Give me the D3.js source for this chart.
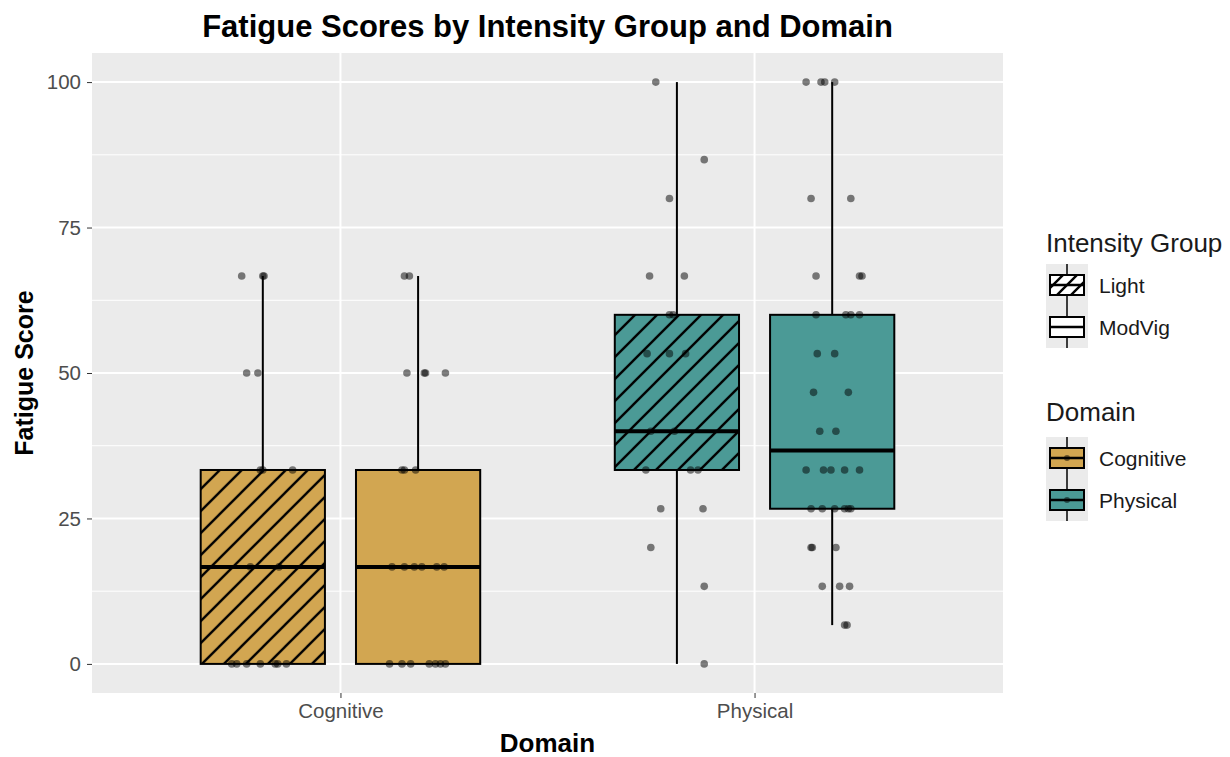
<!DOCTYPE html>
<html>
<head>
<meta charset="utf-8">
<script src="https://cdn.jsdelivr.net/npm/d3@7"></script>
<style>
  body { margin: 0; background: #fff; }
  text { font-family: "Liberation Sans", Arial, Helvetica, sans-serif; }
</style>
</head>
<body>
<div id="chart"></div>
<script>
// categories
var domains = ["Cognitive", "Physical"];
var groups = ["Light", "ModVig"];
var yTicks = [0, 25, 50, 75, 100];

// box summaries: [domain, group, lower, q1, median, q3, upper]
var boxes = [
  ["Cognitive", "Light", 0, 0, 16.67, 33.33, 66.67],
  ["Cognitive", "ModVig", 0, 0, 16.67, 33.33, 66.67],
  ["Physical", "Light", 0, 33.33, 40, 60, 100],
  ["Physical", "ModVig", 6.67, 26.67, 36.67, 60, 100]
];

// jittered points: [score, jitter as fraction of box width]
var cogLight = [
  [66.67, -0.17], [66.67, 0.0], [66.67, 0.01], [50, -0.13], [50, -0.04],
  [33.33, -0.02], [33.33, 0.0], [33.33, 0.24], [16.67, -0.1], [16.67, 0.13],
  [0, -0.25], [0, -0.21], [0, -0.13], [0, -0.02], [0, 0.10], [0, 0.12], [0, 0.19]
];
var cogModVig = [
  [66.67, -0.11], [66.67, -0.07], [50, -0.09], [50, 0.05], [50, 0.06], [50, 0.22],
  [33.33, -0.13], [33.33, -0.11], [33.33, -0.02],
  [16.67, -0.21], [16.67, -0.11], [16.67, -0.03], [16.67, 0.03], [16.67, 0.15], [16.67, 0.21],
  [0, -0.23], [0, -0.13], [0, -0.06], [0, 0.09], [0, 0.14], [0, 0.18], [0, 0.22]
];
var phyLight = [
  [100, -0.17], [86.67, 0.22], [80, -0.06], [66.67, -0.22], [66.67, 0.06],
  [60, -0.06], [60, -0.03], [53.33, -0.24], [53.33, -0.06], [53.33, 0.07],
  [40, -0.21], [40, -0.02], [33.33, -0.25], [33.33, 0.11], [33.33, 0.17],
  [26.67, -0.13], [26.67, 0.21], [20, -0.21], [13.33, 0.22], [0, 0.22]
];
var phyModVig = [
  [100, -0.21], [100, -0.09], [100, -0.06], [100, 0.02], [80, -0.17], [80, 0.15],
  [66.67, -0.13], [66.67, 0.22], [66.67, 0.24],
  [60, -0.13], [60, 0.11], [60, 0.15], [60, 0.22], [53.33, -0.12], [53.33, 0.02],
  [46.67, -0.15], [46.67, 0.13], [40, -0.10], [40, 0.03],
  [33.33, -0.21], [33.33, -0.07], [33.33, -0.01], [33.33, 0.10], [33.33, 0.22],
  [26.67, -0.17], [26.67, -0.08], [26.67, 0.02], [26.67, 0.10], [26.67, 0.13], [26.67, 0.15],
  [20, -0.17], [20, -0.16], [20, 0.03], [13.33, -0.08], [13.33, 0.06], [13.33, 0.14],
  [6.67, 0.10], [6.67, 0.12]
];
var points = [
  ["Cognitive", "Light", cogLight],
  ["Cognitive", "ModVig", cogModVig],
  ["Physical", "Light", phyLight],
  ["Physical", "ModVig", phyModVig]
];

var domainColors = { Cognitive: "#d2a651", Physical: "#4b9a96" };

var W = 1230, H = 757;
var margin = {top: 53, right: 227, bottom: 64, left: 92};
var width = W - margin.left - margin.right,
    height = H - margin.top - margin.bottom;

var svg = d3.select("#chart").append("svg")
    .attr("width", W)
    .attr("height", H);

// hatch pattern for the Light group
var defs = svg.append("defs");
function hatch(id, col, s, sw) {
  var p = defs.append("pattern")
      .attr("id", id)
      .attr("patternUnits", "userSpaceOnUse")
      .attr("width", s).attr("height", s);
  p.append("rect").attr("width", s).attr("height", s).attr("fill", col);
  var h = s / 4;
  p.append("path")
      .attr("d", "M" + (-h) + "," + h + " L" + h + "," + (-h) +
                 " M0," + s + " L" + s + ",0" +
                 " M" + (s - h) + "," + (s + h) + " L" + (s + h) + "," + (s - h))
      .attr("stroke", "#000").attr("stroke-width", sw);
}
hatch("hatch-Cognitive", domainColors.Cognitive, 22, 2.4);
hatch("hatch-Physical", domainColors.Physical, 22, 2.4);
hatch("hatch-white", "#fff", 14, 2.4);

var g = svg.append("g")
    .attr("transform", "translate(" + margin.left + "," + margin.top + ")");

var x = d3.scalePoint().domain(domains).range([0, width]).padding(0.6);
var step = x.step();
var xg = d3.scaleBand().domain(groups).range([-0.375 * step, 0.375 * step]);
var boxW = xg.bandwidth() * 0.8;

var y = d3.scaleLinear().domain([-5, 105]).range([height, 0]);

// panel
g.append("rect").attr("width", width).attr("height", height).attr("fill", "#ebebeb");

// grid
var minor = [12.5, 37.5, 62.5, 87.5];
g.selectAll(".minor").data(minor).enter().append("line")
    .attr("x1", 0).attr("x2", width)
    .attr("y1", d => y(d)).attr("y2", d => y(d))
    .attr("stroke", "#fff").attr("stroke-width", 1);
g.selectAll(".major").data(yTicks).enter().append("line")
    .attr("x1", 0).attr("x2", width)
    .attr("y1", d => y(d)).attr("y2", d => y(d))
    .attr("stroke", "#fff").attr("stroke-width", 2);
g.selectAll(".vmajor").data(domains).enter().append("line")
    .attr("x1", d => x(d)).attr("x2", d => x(d))
    .attr("y1", 0).attr("y2", height)
    .attr("stroke", "#fff").attr("stroke-width", 2);

// boxes
var bx = g.selectAll(".box").data(boxes).enter().append("g")
    .attr("transform", d => "translate(" + (x(d[0]) + xg(d[1]) + xg.bandwidth() / 2) + ",0)");

bx.append("line")
    .attr("x1", 0).attr("x2", 0)
    .attr("y1", d => y(d[6])).attr("y2", d => y(d[5]))
    .attr("stroke", "#000").attr("stroke-width", 2);
bx.append("line")
    .attr("x1", 0).attr("x2", 0)
    .attr("y1", d => y(d[3])).attr("y2", d => y(d[2]))
    .attr("stroke", "#000").attr("stroke-width", 2);
bx.append("rect")
    .attr("x", -boxW / 2).attr("width", boxW)
    .attr("y", d => y(d[5])).attr("height", d => y(d[3]) - y(d[5]))
    .attr("fill", d => d[1] === "Light" ? "url(#hatch-" + d[0] + ")" : domainColors[d[0]])
    .attr("stroke", "#000").attr("stroke-width", 2);
bx.append("line")
    .attr("x1", -boxW / 2).attr("x2", boxW / 2)
    .attr("y1", d => y(d[4])).attr("y2", d => y(d[4]))
    .attr("stroke", "#000").attr("stroke-width", 4);

// jittered points
points.forEach(function(p) {
  var cx = x(p[0]) + xg(p[1]) + xg.bandwidth() / 2;
  g.selectAll(null).data(p[2]).enter().append("circle")
      .attr("cx", d => cx + d[1] * boxW)
      .attr("cy", d => y(d[0]))
      .attr("r", 3.8)
      .attr("fill", "#000").attr("fill-opacity", 0.5);
});

// axes
var yAxis = d3.axisLeft(y).tickValues(yTicks).tickSize(5).tickPadding(6);
var ya = g.append("g").call(yAxis);
ya.select(".domain").remove();
ya.selectAll("line").attr("stroke", "#333").attr("stroke-width", 1);
ya.selectAll("text").attr("fill", "#4d4d4d").style("font-size", "20.5px");

var xAxis = d3.axisBottom(x).tickSize(5).tickPadding(5);
var xa = g.append("g").attr("transform", "translate(0," + height + ")").call(xAxis);
xa.select(".domain").remove();
xa.selectAll("line").attr("stroke", "#333").attr("stroke-width", 1);
xa.selectAll("text").attr("fill", "#4d4d4d").style("font-size", "20.5px");

// titles
svg.append("text")
    .attr("x", margin.left + width / 2).attr("y", 37)
    .attr("text-anchor", "middle")
    .style("font-size", "31px").style("font-weight", "bold")
    .text("Fatigue Scores by Intensity Group and Domain");
svg.append("text")
    .attr("x", margin.left + width / 2).attr("y", 752)
    .attr("text-anchor", "middle")
    .style("font-size", "26px").style("font-weight", "bold")
    .text("Domain");
svg.append("text")
    .attr("transform", "translate(33," + (margin.top + height / 2) + ") rotate(-90)")
    .attr("text-anchor", "middle")
    .style("font-size", "25px").style("font-weight", "bold")
    .text("Fatigue Score");

// legends
function legendKey(gk, fill, dot) {
  gk.append("rect").attr("x", 0).attr("y", 0).attr("width", 42).attr("height", 42).attr("fill", "#ebebeb");
  gk.append("line").attr("x1", 21).attr("x2", 21).attr("y1", 0).attr("y2", 42)
      .attr("stroke", "#000").attr("stroke-width", 1.5);
  gk.append("rect").attr("x", 4).attr("y", 11).attr("width", 34).attr("height", 20)
      .attr("fill", fill).attr("stroke", "#000").attr("stroke-width", 2);
  gk.append("line").attr("x1", 4).attr("x2", 38).attr("y1", 21).attr("y2", 21)
      .attr("stroke", "#000").attr("stroke-width", 2.5);
  if (dot) gk.append("circle").attr("cx", 21).attr("cy", 21).attr("r", 3)
      .attr("fill", "#000").attr("fill-opacity", 0.5);
}

var leg1 = svg.append("g").attr("transform", "translate(1046,0)");
leg1.append("text").attr("x", 0).attr("y", 252).style("font-size", "26px").attr("fill", "#1a1a1a").text("Intensity Group");
groups.forEach(function(gr, i) {
  var k = leg1.append("g").attr("transform", "translate(0," + (264 + i * 42) + ")");
  legendKey(k, gr === "Light" ? "url(#hatch-white)" : "#fff", false);
  k.append("text").attr("x", 53).attr("y", 29).style("font-size", "21px").attr("fill", "#1a1a1a").text(gr);
});

var leg2 = svg.append("g").attr("transform", "translate(1046,0)");
leg2.append("text").attr("x", 0).attr("y", 421).style("font-size", "26px").attr("fill", "#1a1a1a").text("Domain");
domains.forEach(function(dm, i) {
  var k = leg2.append("g").attr("transform", "translate(0," + (437 + i * 42) + ")");
  legendKey(k, domainColors[dm], true);
  k.append("text").attr("x", 53).attr("y", 29).style("font-size", "21px").attr("fill", "#1a1a1a").text(dm);
});
</script>
</body>
</html>
